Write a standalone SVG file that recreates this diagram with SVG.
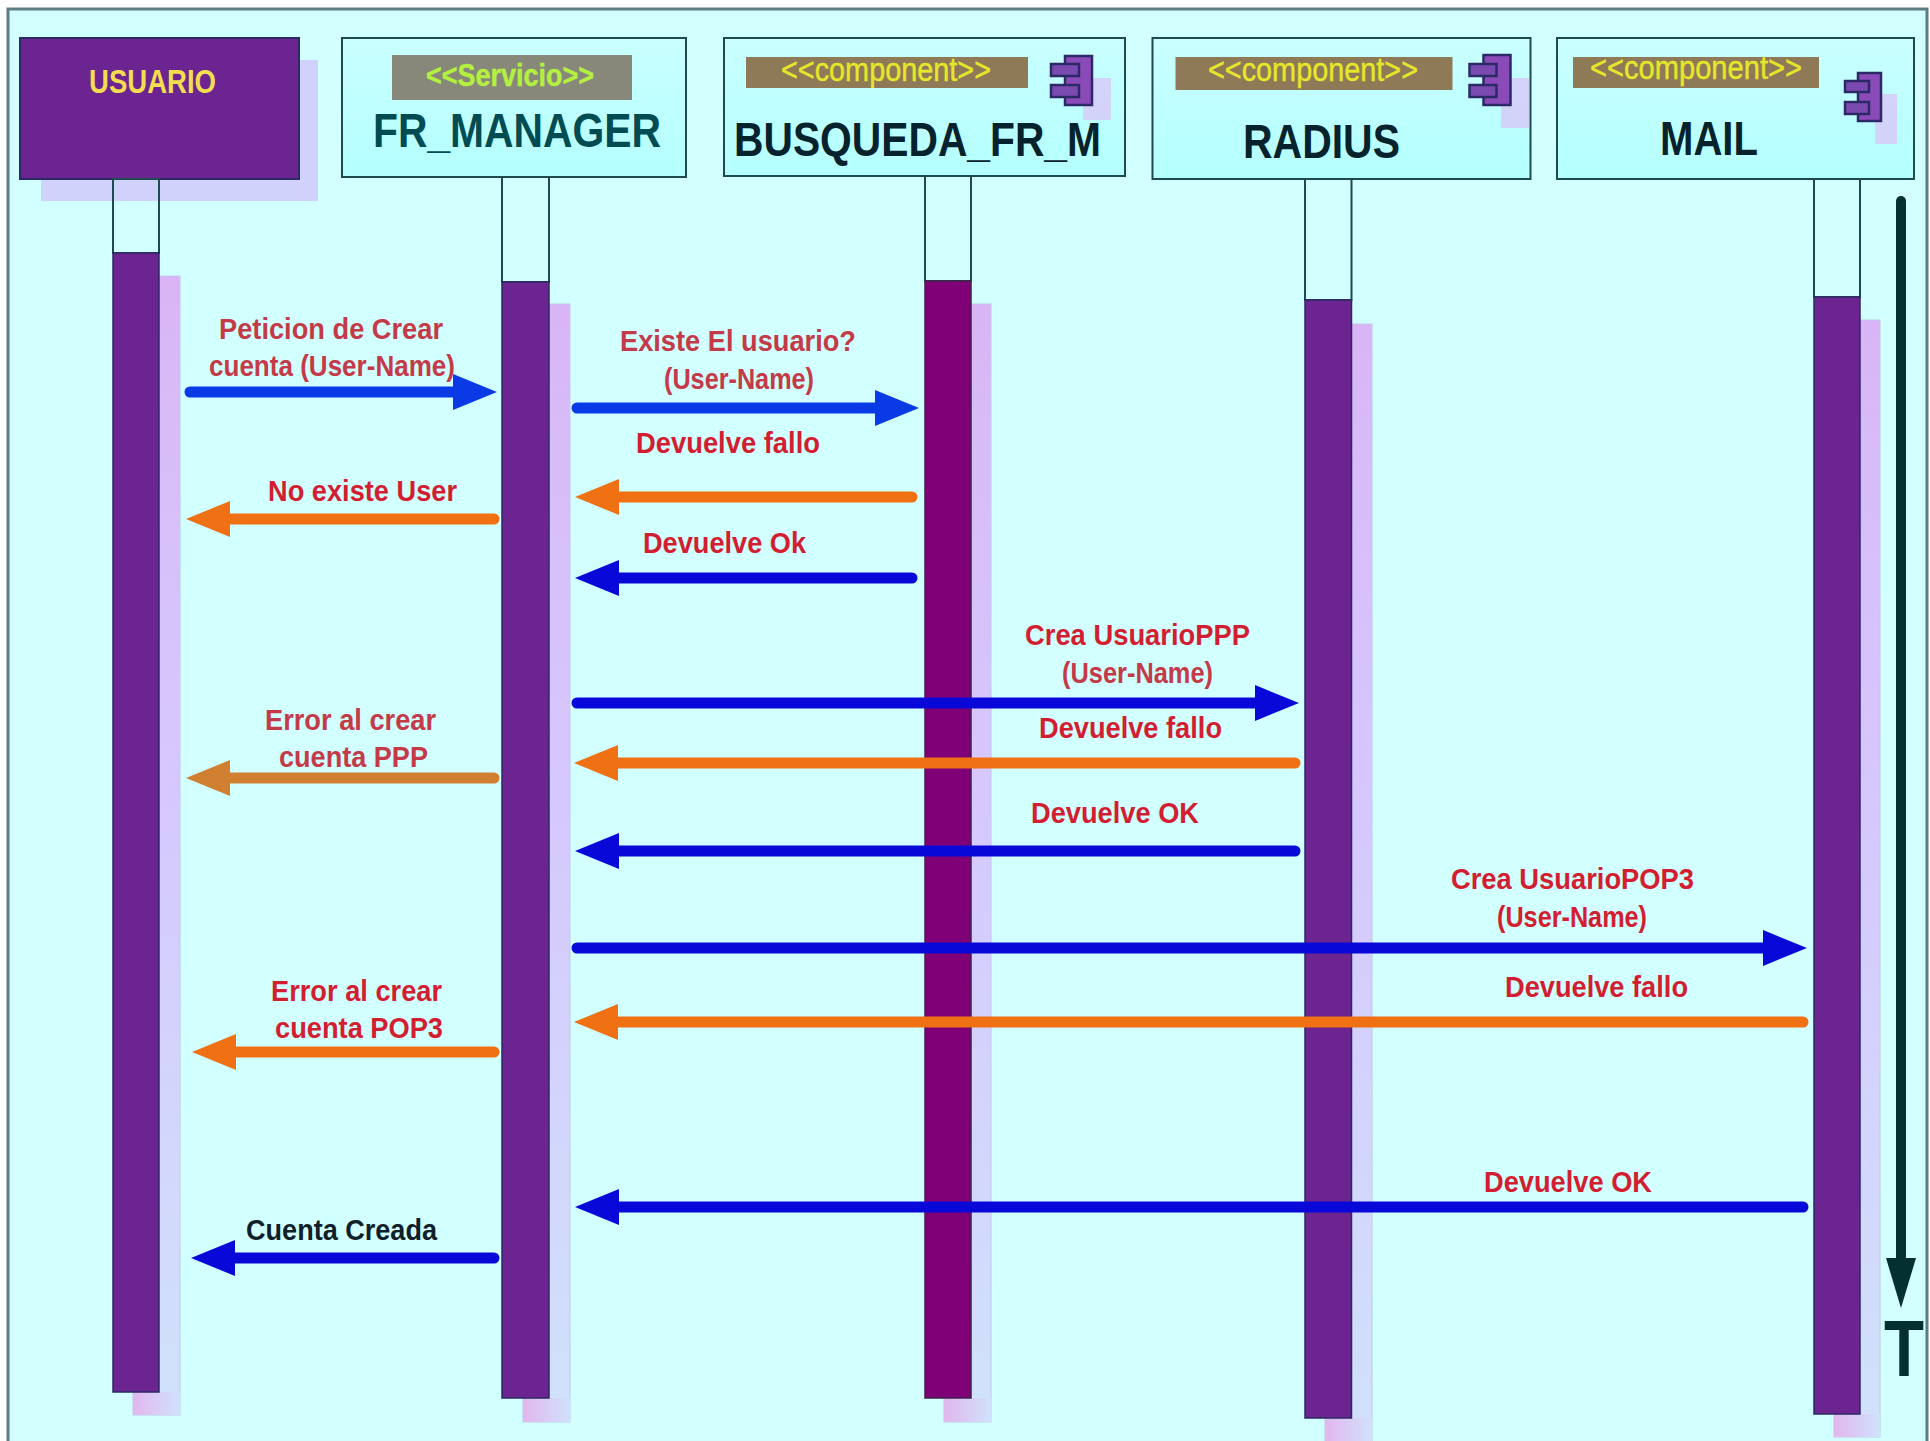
<svg xmlns="http://www.w3.org/2000/svg" width="1930" height="1441" viewBox="0 0 1930 1441">
<style>
text{font-family:"Liberation Sans",Arial,sans-serif;font-weight:bold}
.box{stroke:#1f4a50;stroke-width:2;fill:url(#boxFill)}
.life{fill:none;stroke:#1f4a50;stroke-width:2}
.act{fill:#6b2490;stroke:#2c2a66;stroke-width:1.5}
.actm{fill:#800078;stroke:#40204a;stroke-width:1.5}
.sh{fill:url(#shFill);stroke:#c0c8ec;stroke-width:1}
.shb{fill:url(#shBot)}
.tag{fill:#8f7a58}
.stereo{font-size:33px;font-weight:normal;fill:#e6e62a;stroke:#e6e62a;stroke-width:.4}
.name{font-size:48px;fill:#06222c}
.msg{font-size:29px;fill:#d21e30}
.msgd{font-size:29px;fill:#c43a48}
.icb{fill:#8a4ab8;stroke:#2c2a66;stroke-width:2.5}
.ics{fill:#7a4ab0;stroke:#2c2a66;stroke-width:2.5}
.ico{fill:#dcc0f6;opacity:.7}
.ln{fill:none;stroke-width:11;stroke-linecap:round}
.b1{stroke:#0a3ae6}.b2{stroke:#0808d8}.or{stroke:#f07014}.ta{stroke:#d08030}
</style>
<defs>
<linearGradient id="boxFill" x1="0" y1="0" x2="0" y2="1"><stop offset="0" stop-color="#caffff"/><stop offset="1" stop-color="#b4ffff"/></linearGradient>
<linearGradient id="shFill" x1="0" y1="0" x2="0" y2="1"><stop offset="0" stop-color="#dab4f6"/><stop offset=".12" stop-color="#d8bcf8"/><stop offset=".45" stop-color="#d6c8fd"/><stop offset="1" stop-color="#d0e2fb"/></linearGradient>
<linearGradient id="shBot" x1="0" y1="0" x2="1" y2="0"><stop offset="0" stop-color="#e2b6ee"/><stop offset="1" stop-color="#d0e2fb"/></linearGradient>
<marker id="mb1" markerUnits="userSpaceOnUse" viewBox="0 0 44 36" markerWidth="44" markerHeight="36" refX="2" refY="18" orient="auto"><polygon points="0,0 44,18 0,36" fill="#0a3ae6"/></marker>
<marker id="mb2" markerUnits="userSpaceOnUse" viewBox="0 0 44 36" markerWidth="44" markerHeight="36" refX="2" refY="18" orient="auto"><polygon points="0,0 44,18 0,36" fill="#0808d8"/></marker>
<marker id="mor" markerUnits="userSpaceOnUse" viewBox="0 0 44 36" markerWidth="44" markerHeight="36" refX="2" refY="18" orient="auto"><polygon points="0,0 44,18 0,36" fill="#f07014"/></marker>
<marker id="mta" markerUnits="userSpaceOnUse" viewBox="0 0 44 36" markerWidth="44" markerHeight="36" refX="2" refY="18" orient="auto"><polygon points="0,0 44,18 0,36" fill="#d08030"/></marker>
</defs>
<rect x="0" y="0" width="1930" height="1441" fill="#ffffff"/>
<rect id="frame" x="8" y="9" width="1919" height="1440" fill="#d2ffff" stroke="#5e7c84" stroke-width="3"/>

<g id="usuario">
<rect x="41" y="60" width="277" height="141" fill="#d0d2fb"/>
<rect x="20" y="38" width="279" height="141" fill="#6b2490" stroke="#2c2a66" stroke-width="2"/>
<text x="89" y="93" font-size="33" font-weight="normal" fill="#f2dc50" textLength="127" lengthAdjust="spacingAndGlyphs">USUARIO</text>
<rect class="sh" x="133" y="276" width="47" height="1139"/><rect class="shb" x="133" y="1392" width="47" height="23"/>
<rect class="life" x="113" y="179" width="46" height="74"/>
<rect class="act" x="113" y="253" width="46" height="1139"/>
</g>

<g id="fr_manager">
<rect class="sh" x="523" y="304" width="47" height="1118"/><rect class="shb" x="523" y="1398" width="47" height="24"/>
<rect class="box" x="342" y="38" width="344" height="139"/>
<rect x="392" y="55" width="240" height="45" fill="#88887a"/>
<text x="426" y="86" font-size="31" font-weight="normal" fill="#b4f040" stroke="#b4f040" stroke-width=".4" textLength="168" lengthAdjust="spacingAndGlyphs">&lt;&lt;Servicio&gt;&gt;</text>
<text x="373" y="147" font-size="48" fill="#004c52" textLength="288" lengthAdjust="spacingAndGlyphs">FR_MANAGER</text>
<rect class="life" x="502" y="177" width="47" height="105"/>
<rect class="act" x="502" y="282" width="47" height="1116"/>
</g>

<g id="busqueda_fr_m">
<rect class="sh" x="944" y="304" width="47" height="1118"/><rect class="shb" x="944" y="1398" width="47" height="24"/>
<rect class="box" x="724" y="38" width="401" height="138"/>
<rect class="tag" x="746" y="57" width="282" height="31"/>
<text class="stereo" x="781" y="81" textLength="210" lengthAdjust="spacingAndGlyphs">&lt;&lt;component&gt;&gt;</text>
<rect class="ico" x="1083" y="78" width="28" height="42"/>
<rect class="icb" x="1065" y="56" width="27" height="49"/>
<rect class="ics" x="1051" y="64" width="28" height="12"/>
<rect class="ics" x="1051" y="85" width="28" height="12"/>
<text class="name" x="734" y="156" textLength="367" lengthAdjust="spacingAndGlyphs">BUSQUEDA_FR_M</text>
<rect class="life" x="925" y="176" width="46" height="105"/>
<rect class="actm" x="925" y="281" width="46" height="1117"/>
</g>

<g id="radius">
<rect class="sh" x="1325" y="324" width="47" height="1125"/><rect class="shb" x="1325" y="1418" width="47" height="23"/>
<rect class="box" x="1152.500" y="38" width="378" height="141"/>
<rect class="tag" x="1175.500" y="57" width="277" height="33"/>
<text class="stereo" x="1208" y="81" textLength="210" lengthAdjust="spacingAndGlyphs">&lt;&lt;component&gt;&gt;</text>
<rect class="ico" x="1501" y="78" width="28" height="50"/>
<rect class="icb" x="1483.500" y="55" width="27" height="50"/>
<rect class="ics" x="1469.500" y="64" width="27" height="12"/>
<rect class="ics" x="1469.500" y="85" width="27" height="12"/>
<text class="name" x="1243" y="158" textLength="157" lengthAdjust="spacingAndGlyphs">RADIUS</text>
<rect class="life" x="1305" y="179" width="46.500" height="121"/>
<rect class="act" x="1305" y="300" width="46.500" height="1118"/>
</g>

<g id="mail">
<rect class="sh" x="1834" y="320" width="46" height="1117"/><rect class="shb" x="1834" y="1414" width="46" height="23"/>
<rect class="box" x="1557" y="38" width="357" height="141"/>
<rect class="tag" x="1573" y="57" width="246" height="31"/>
<text class="stereo" x="1590" y="79" textLength="212" lengthAdjust="spacingAndGlyphs">&lt;&lt;component&gt;&gt;</text>
<rect class="ico" x="1875" y="94" width="22" height="50"/>
<rect class="icb" x="1858" y="73" width="23" height="48"/>
<rect class="ics" x="1845" y="81" width="24" height="11"/>
<rect class="ics" x="1845" y="102" width="24" height="12"/>
<text class="name" x="1660" y="155" textLength="98" lengthAdjust="spacingAndGlyphs">MAIL</text>
<rect class="life" x="1814" y="179" width="46" height="118"/>
<rect class="act" x="1814" y="297" width="46" height="1117"/>
</g>

<g id="connectors">
<line class="ln b1" x1="190" y1="392" x2="455" y2="392" marker-end="url(#mb1)"/>
<line class="ln b1" x1="577" y1="408" x2="877" y2="408" marker-end="url(#mb1)"/>
<line class="ln or" x1="912" y1="497" x2="617" y2="497" marker-end="url(#mor)"/>
<line class="ln or" x1="494" y1="519" x2="228" y2="519" marker-end="url(#mor)"/>
<line class="ln b2" x1="912" y1="578" x2="617" y2="578" marker-end="url(#mb2)"/>
<line class="ln b2" x1="577" y1="703" x2="1257" y2="703" marker-end="url(#mb2)"/>
<line class="ln or" x1="1295" y1="763" x2="616" y2="763" marker-end="url(#mor)"/>
<line class="ln ta" x1="494" y1="778" x2="228" y2="778" marker-end="url(#mta)"/>
<line class="ln b2" x1="1295" y1="851" x2="617" y2="851" marker-end="url(#mb2)"/>
<line class="ln b2" x1="577" y1="948" x2="1765" y2="948" marker-end="url(#mb2)"/>
<line class="ln or" x1="1803" y1="1022" x2="616" y2="1022" marker-end="url(#mor)"/>
<line class="ln or" x1="494" y1="1052" x2="234" y2="1052" marker-end="url(#mor)"/>
<line class="ln b2" x1="1803" y1="1207" x2="617" y2="1207" marker-end="url(#mb2)"/>
<line class="ln b2" x1="494" y1="1258" x2="233" y2="1258" marker-end="url(#mb2)"/>
</g>

<g id="time-axis">
<line x1="1901" y1="201" x2="1901" y2="1260" stroke="#04302f" stroke-width="10" stroke-linecap="round"/>
<polygon points="1886,1258 1916,1258 1901,1308" fill="#04302f"/>
<text x="1884" y="1376" font-size="80" fill="#04302f" textLength="40" lengthAdjust="spacingAndGlyphs">T</text>
</g>

<g id="labels" transform="translate(0,-1.500)">
<text class="msgd" x="219" y="340" textLength="224" lengthAdjust="spacingAndGlyphs">Peticion de Crear</text>
<text class="msgd" x="209" y="377" textLength="246" lengthAdjust="spacingAndGlyphs">cuenta (User-Name)</text>
<text class="msgd" x="620" y="352" textLength="236" lengthAdjust="spacingAndGlyphs">Existe El usuario?</text>
<text class="msgd" x="664" y="390" textLength="150" lengthAdjust="spacingAndGlyphs">(User-Name)</text>
<text class="msg" x="636" y="454" textLength="184" lengthAdjust="spacingAndGlyphs">Devuelve fallo</text>
<text class="msg" x="268" y="502" textLength="189" lengthAdjust="spacingAndGlyphs">No existe User</text>
<text class="msg" x="643" y="554" textLength="163" lengthAdjust="spacingAndGlyphs">Devuelve Ok</text>
<text class="msg" x="1025" y="646" textLength="225" lengthAdjust="spacingAndGlyphs">Crea UsuarioPPP</text>
<text class="msgd" x="1062" y="684" textLength="151" lengthAdjust="spacingAndGlyphs">(User-Name)</text>
<text class="msgd" x="265" y="731" textLength="171" lengthAdjust="spacingAndGlyphs">Error al crear</text>
<text class="msgd" x="279" y="768" textLength="149" lengthAdjust="spacingAndGlyphs">cuenta PPP</text>
<text class="msg" x="1039" y="739" textLength="183" lengthAdjust="spacingAndGlyphs">Devuelve fallo</text>
<text class="msg" x="1031" y="824" textLength="168" lengthAdjust="spacingAndGlyphs">Devuelve OK</text>
<text class="msg" x="1451" y="890" textLength="243" lengthAdjust="spacingAndGlyphs">Crea UsuarioPOP3</text>
<text class="msg" x="1497" y="928" textLength="150" lengthAdjust="spacingAndGlyphs">(User-Name)</text>
<text class="msg" x="1505" y="998" textLength="183" lengthAdjust="spacingAndGlyphs">Devuelve fallo</text>
<text class="msg" x="271" y="1002" textLength="171" lengthAdjust="spacingAndGlyphs">Error al crear</text>
<text class="msg" x="275" y="1039" textLength="168" lengthAdjust="spacingAndGlyphs">cuenta POP3</text>
<text class="msg" x="1484" y="1193" textLength="168" lengthAdjust="spacingAndGlyphs">Devuelve OK</text>
<text x="246" y="1241" font-size="29" fill="#10202a" textLength="191" lengthAdjust="spacingAndGlyphs">Cuenta Creada</text>
</g>
</svg>
